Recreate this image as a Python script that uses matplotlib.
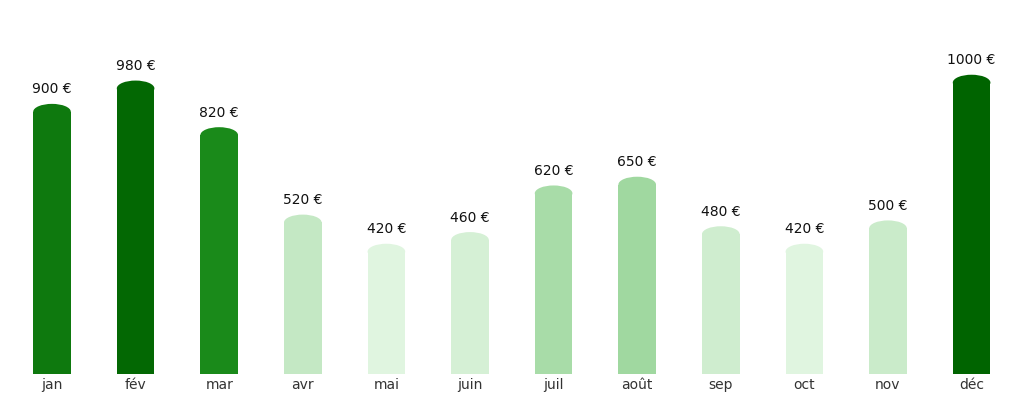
import matplotlib
matplotlib.use("Agg")
import matplotlib.pyplot as plt
from matplotlib.patches import Ellipse
import numpy as np

months = ["jan", "fév", "mar", "avr", "mai", "juin", "juil", "août", "sep", "oct", "nov", "déc"]
values = [900, 980, 820, 520, 420, 460, 620, 650, 480, 420, 500, 1000]

LIGHT_LO, LIGHT_HI = np.array([224, 245, 224]), np.array([160, 216, 160])
DARK_LO, DARK_HI = np.array([26, 138, 26]), np.array([0, 100, 0])


def bar_color(v, vals):
    low = [x for x in vals if x < 700]
    high = [x for x in vals if x >= 700]
    if v < 700:
        t = (v - min(low)) / (max(low) - min(low))
        c = LIGHT_LO + t * (LIGHT_HI - LIGHT_LO)
    else:
        t = (v - min(high)) / (max(high) - min(high))
        c = DARK_LO + t * (DARK_HI - DARK_LO)
    return c / 255.0


fig = plt.figure(figsize=(10.24, 4.04), dpi=100)
ax = fig.add_axes([0, 30 / 404, 1, 374 / 404])
ax.set_xlim(-52 / 83.6, (1024 - 52) / 83.6)
ax.set_ylim(0, 374 / 0.2914)

width = 0.45
cap = 27  # half-height of rounded top, data units
x = np.arange(len(months))
for xi, v in zip(x, values):
    col = bar_color(v, values)
    ax.bar(xi, v, width=width, color=col, linewidth=0)
    ax.add_patch(Ellipse((xi, v), width, 2 * cap, color=col, linewidth=0))
    ax.text(xi, v + cap + 50, f"{v} €", ha="center", va="center", fontsize=10, color="#111111")

ax.set_xticks(x)
ax.set_xticklabels(months, fontsize=10, color="#333333")
ax.tick_params(axis="x", length=0, pad=3)
ax.set_yticks([])
for s in ax.spines.values():
    s.set_visible(False)

fig.savefig("out.png", dpi=100)
